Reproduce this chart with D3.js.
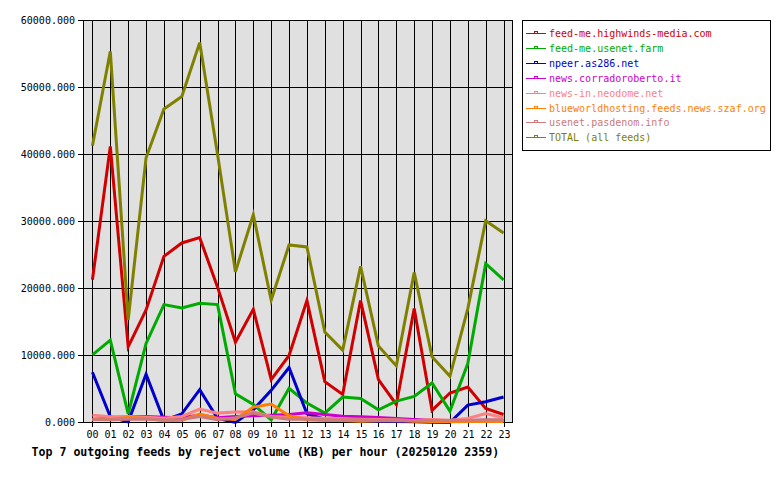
<!DOCTYPE html>
<html>
<head>
<meta charset="utf-8">
<script src="https://cdn.jsdelivr.net/npm/d3@7"></script>
<style>
  html, body { margin: 0; padding: 0; background: #ffffff; }
  svg text { font-family: "DejaVu Sans Mono", "Liberation Mono", monospace; }
</style>
</head>
<body>
<svg id="chart" width="780" height="480"></svg>
<script>
// ---- data ----
const hours = ["00","01","02","03","04","05","06","07","08","09","10","11","12","13","14","15","16","17","18","19","20","21","22","23"];
const yTicks = [0, 10000, 20000, 30000, 40000, 50000, 60000];
const feedNames = ["feed-me.highwinds-media.com","feed-me.usenet.farm","npeer.as286.net","news.corradoroberto.it","news-in.neodome.net","blueworldhosting.feeds.news.szaf.org","usenet.pasdenom.info","TOTAL (all feeds)"];
const feedColors = ["#d00000","#00aa00","#0000cc","#cc00cc","#ff8080","#ff8000","#cc7a7a","#808000"];

const highwinds = [21300, 41200, 11300, 16800, 24800, 26800, 27600, 20200, 12000, 16900, 6400, 10000, 18200, 6100, 4200, 18200, 6400, 2700, 17000, 1800, 4400, 5300, 2100, 1200];
const usenetFarm = [10100, 12300, 1300, 11800, 17600, 17100, 17800, 17600, 4300, 2700, 400, 5100, 2900, 1400, 3800, 3600, 1900, 3200, 3900, 5900, 1700, 8800, 23700, 21300];
const npeer = [7500, 850, 100, 7200, 300, 1300, 4900, 600, 0, 1900, 4800, 8200, 1300, 500, 400, 300, 200, 150, 100, 50, 0, 2600, 3100, 3800];
const corradoroberto = [500, 600, 900, 900, 800, 700, 1100, 700, 900, 1000, 1100, 1200, 1450, 1200, 950, 850, 750, 600, 450, 350, 250, 300, 350, 300];
const neodome = [1100, 850, 900, 800, 650, 900, 2000, 1400, 1550, 1600, 900, 800, 700, 650, 550, 500, 450, 400, 250, 450, 350, 600, 1350, 700];
const blueworld = [450, 450, 750, 600, 250, 350, 1250, 600, 450, 2300, 2750, 1000, 400, 300, 300, 200, 250, 300, 200, 150, 100, 150, 200, 150];
const pasdenom = [450, 400, 500, 500, 400, 450, 900, 400, 700, 1400, 800, 500, 500, 400, 400, 400, 350, 350, 300, 300, 300, 300, 400, 400];
const total = [41300, 55400, 15300, 39500, 46800, 48650, 56700, 40000, 22500, 31000, 18250, 26500, 26200, 13500, 10800, 23300, 11400, 8450, 22400, 9800, 6900, 17000, 30100, 28300];

const series = [highwinds, usenetFarm, npeer, corradoroberto, neodome, blueworld, pasdenom, total];
const titleText = "Top 7 outgoing feeds by reject volume (KB) per hour (20250120 2359)";

// ---- layout ----
const svg = d3.select("#chart");
const L = 83.5, R = 512.5, T = 20.5, B = 422.5;

const x = d3.scaleBand().domain(hours).range([L, R]);
const xc = h => x(h) + x.bandwidth() / 2;
const y = d3.scaleLinear().domain([0, 60000]).range([B, T]);

// plot background
svg.append("rect").attr("x", L).attr("y", T).attr("width", R - L).attr("height", B - T)
  .attr("fill", "#e0e0e0");

// grid
const grid = svg.append("g").attr("stroke", "#000").attr("stroke-width", 1).attr("shape-rendering", "crispEdges");
hours.forEach(h => {
  const gx = Math.round(xc(h)) + 0.5;
  grid.append("line").attr("x1", gx).attr("x2", gx).attr("y1", T).attr("y2", B + 4);
});
yTicks.forEach(v => {
  grid.append("line").attr("x1", L - 6).attr("x2", R).attr("y1", y(v)).attr("y2", y(v));
});

// frame
svg.append("rect").attr("x", L).attr("y", T).attr("width", R - L).attr("height", B - T)
  .attr("fill", "none").attr("stroke", "#000").attr("shape-rendering", "crispEdges");

// y labels
svg.append("g").selectAll("text").data(yTicks).join("text")
  .attr("x", 75).attr("y", d => y(d) + 3.5)
  .attr("text-anchor", "end").attr("font-size", "10px").attr("fill", "#000")
  .text(d => d3.format(".3f")(d));

// x labels
svg.append("g").selectAll("text").data(hours).join("text")
  .attr("x", d => Math.round(xc(d)) + 0.5).attr("y", 437.5)
  .attr("text-anchor", "middle").attr("font-size", "10px").attr("fill", "#000")
  .text(d => d);

// lines
const line = d3.line().x((d, i) => xc(hours[i])).y(d => y(d));
series.forEach((s, k) => {
  svg.append("path").datum(s).attr("d", line)
    .attr("fill", "none").attr("stroke", feedColors[k])
    .attr("stroke-width", 3).attr("stroke-linejoin", "miter");
});

// legend
const lg = svg.append("g");
lg.append("rect").attr("x", 522.5).attr("y", 20.5).attr("width", 248).attr("height", 130)
  .attr("fill", "#fff").attr("stroke", "#000").attr("shape-rendering", "crispEdges");
feedNames.forEach((name, k) => {
  const cy = Math.round(33 + k * 14.9) + 0.5;
  lg.append("line").attr("x1", 526).attr("x2", 546).attr("y1", cy).attr("y2", cy)
    .attr("stroke", feedColors[k]).attr("stroke-width", 1).attr("shape-rendering", "crispEdges");
  lg.append("rect").attr("x", 534.5).attr("y", cy - 2).attr("width", 3).attr("height", 2)
    .attr("fill", "#fff").attr("stroke", feedColors[k]).attr("shape-rendering", "crispEdges");
  lg.append("text").attr("x", 549).attr("y", cy + 3.5)
    .attr("font-size", "10px").attr("fill", feedColors[k]).text(name);
});

// title
svg.append("text").attr("x", 31.5).attr("y", 455.5)
  .attr("font-size", "11.6px").attr("font-weight", "bold").attr("fill", "#000")
  .text(titleText);
</script>
</body>
</html>
